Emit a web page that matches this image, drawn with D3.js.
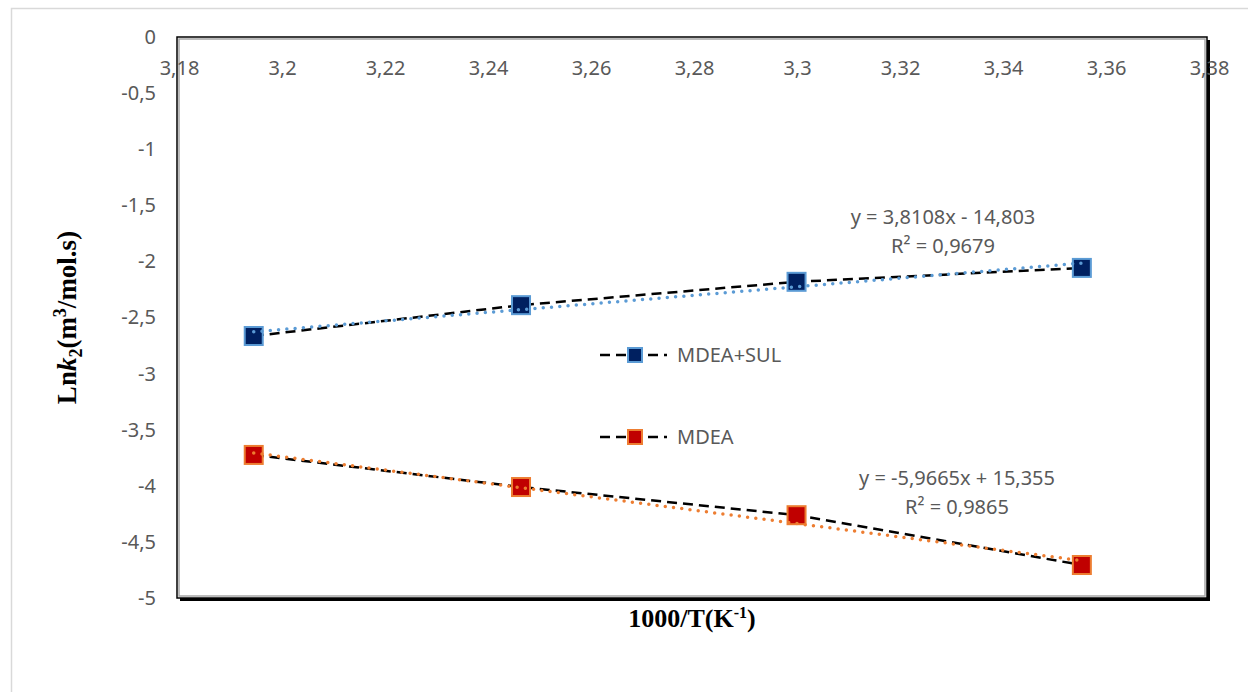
<!DOCTYPE html>
<html>
<head>
<meta charset="utf-8">
<script src="https://cdn.jsdelivr.net/npm/d3@7"></script>
<style>
  body { margin: 0; background: #fff; }
  svg { display: block; }
</style>
</head>
<body>
<div id="plot"></div>
<script>
// Data
const xValues = [3.1949, 3.2468, 3.3003, 3.3557];
const mdeaSul = [-2.665, -2.39, -2.182, -2.058];
const mdea = [-3.725, -4.011, -4.262, -4.706];
const seriesNames = ['MDEA+SUL', 'MDEA'];
const trendSul = { slope: 3.8108, intercept: -14.803, label: 'y = 3,8108x - 14,803', r2: 'R² = 0,9679' };
const trendMdea = { slope: -5.9665, intercept: 15.355, label: 'y = -5,9665x + 15,355', r2: 'R² = 0,9865' };
const xTicks = [3.18, 3.2, 3.22, 3.24, 3.26, 3.28, 3.3, 3.32, 3.34, 3.36, 3.38];
const yTicks = [0, -0.5, -1, -1.5, -2, -2.5, -3, -3.5, -4, -4.5, -5];

const width = 1248, height = 692;
const margin = { top: 37, bottom: 94, left: 177, right: 41 };
const fmt = d => String(+d.toFixed(2)).replace('.', ',');

const svg = d3.select('#plot')
  .append('svg')
  .attr('width', width)
  .attr('height', height);

// outer chart border
svg.append('rect')
  .attr('x', 11.5).attr('y', 8.5)
  .attr('width', width + 20).attr('height', height + 20)
  .attr('fill', '#fff')
  .attr('stroke', '#d9d9d9')
  .attr('stroke-width', 1.5);

// Scales
const x = d3.scaleLinear()
  .domain([3.18, 3.38])
  .range([margin.left, width - margin.right]);

const y = d3.scaleLinear()
  .domain([-5, 0])
  .range([height - margin.bottom, margin.top]);

const pw = x(3.38) - x(3.18), ph = y(-5) - y(0);

// plot frame with shadow
svg.append('rect')
  .attr('x', x(3.18) + 3).attr('y', y(0) + 3)
  .attr('width', pw).attr('height', ph)
  .attr('fill', '#000');
svg.append('rect')
  .attr('x', x(3.18)).attr('y', y(0))
  .attr('width', pw).attr('height', ph)
  .attr('fill', '#fff')
  .attr('stroke', '#000')
  .attr('stroke-width', 1.5);
svg.append('rect')
  .attr('x', x(3.18) + 2).attr('y', y(0) + 2)
  .attr('width', pw - 4).attr('height', ph - 4)
  .attr('fill', 'none')
  .attr('stroke', '#a6a6a6')
  .attr('stroke-width', 1.5);

// Axes (labels only)
svg.append('g')
  .attr('transform', `translate(0,${y(0)})`)
  .call(d3.axisBottom(x).tickValues(xTicks).tickFormat(fmt).tickSize(0).tickPadding(24))
  .call(g => g.select('.domain').remove())
  .selectAll('text')
  .attr('dx', 2)
  .style('font-family', 'Noto Sans')
  .style('font-size', '20px')
  .attr('fill', '#595959');

svg.append('g')
  .attr('transform', `translate(${margin.left},0)`)
  .call(d3.axisLeft(y).tickValues(yTicks).tickFormat(fmt).tickSize(0).tickPadding(21))
  .call(g => g.select('.domain').remove())
  .selectAll('text')
  .style('font-family', 'Noto Sans')
  .style('font-size', '20px')
  .attr('fill', '#595959');

// Series lines (black dashed)
const line = d3.line().x(d => x(d[0])).y(d => y(d[1]));
const allSeries = [
  { name: seriesNames[0], vals: mdeaSul, fill: '#002060', stroke: '#5B9BD5', trend: trendSul },
  { name: seriesNames[1], vals: mdea, fill: '#C00000', stroke: '#ED7D31', trend: trendMdea }
];

allSeries.forEach(s => {
  const pts = xValues.map((xv, i) => [xv, s.vals[i]]);
  svg.append('path')
    .datum(pts)
    .attr('d', line)
    .attr('fill', 'none')
    .attr('stroke', '#000')
    .attr('stroke-width', 2.5)
    .attr('stroke-dasharray', '10,6');

  svg.append('g')
    .selectAll('rect')
    .data(pts)
    .join('rect')
    .attr('x', d => x(d[0]) - 9)
    .attr('y', d => y(d[1]) - 9)
    .attr('width', 18)
    .attr('height', 18)
    .attr('fill', s.fill)
    .attr('stroke', s.stroke)
    .attr('stroke-width', 2);

  // linear trendline (dotted)
  const x0 = xValues[0], x1 = xValues[xValues.length - 1];
  svg.append('path')
    .datum([[x0, s.trend.slope * x0 + s.trend.intercept], [x1, s.trend.slope * x1 + s.trend.intercept]])
    .attr('d', line)
    .attr('fill', 'none')
    .attr('stroke', s.stroke)
    .attr('stroke-width', 3.5)
    .attr('stroke-linecap', 'round')
    .attr('stroke-dasharray', '0,8.3');
});

// Trendline equations
const eqs = [
  { t: trendSul, cx: 943, cy: 224 },
  { t: trendMdea, cx: 957, cy: 485 }
];
eqs.forEach(e => {
  svg.append('text')
    .attr('x', e.cx).attr('y', e.cy)
    .attr('text-anchor', 'middle')
    .style('font-family', 'Noto Sans')
    .style('font-size', '20px')
    .attr('fill', '#595959')
    .text(e.t.label);
  svg.append('text')
    .attr('x', e.cx).attr('y', e.cy + 29)
    .attr('text-anchor', 'middle')
    .style('font-family', 'Noto Sans')
    .style('font-size', '20px')
    .attr('fill', '#595959')
    .text(e.t.r2);
});

// Legend
const legend = svg.append('g').attr('transform', 'translate(600,355)');
const item = legend.selectAll('g')
  .data(allSeries)
  .join('g')
  .attr('transform', (d, i) => `translate(0,${i * 82})`);
item.append('line')
  .attr('x1', 0).attr('x2', 67)
  .attr('stroke', '#000')
  .attr('stroke-width', 2.5)
  .attr('stroke-dasharray', '10,6');
item.append('rect')
  .attr('x', 28).attr('y', -7)
  .attr('width', 14).attr('height', 14)
  .attr('fill', d => d.fill)
  .attr('stroke', d => d.stroke)
  .attr('stroke-width', 2);
item.append('text')
  .attr('x', 77).attr('y', 7)
  .style('font-family', 'Noto Sans')
  .style('font-size', '20px')
  .attr('fill', '#595959')
  .text(d => d.name);

// X axis title
const xt = svg.append('text')
  .attr('x', 692).attr('y', 627)
  .attr('text-anchor', 'middle')
  .style('font-family', 'Liberation Serif')
  .style('font-weight', 'bold')
  .style('font-size', '26px')
  .attr('fill', '#000');
xt.append('tspan').text('1000/T(K');
xt.append('tspan').attr('dy', -9).style('font-size', '16px').text('-1');
xt.append('tspan').attr('dy', 9).text(')');

// Y axis title
const yt = svg.append('text')
  .attr('transform', `translate(76,${(y(0) + y(-5)) / 2}) rotate(-90)`)
  .attr('text-anchor', 'middle')
  .style('font-family', 'Liberation Serif')
  .style('font-weight', 'bold')
  .style('font-size', '27px')
  .attr('fill', '#000');
yt.append('tspan').text('Ln');
yt.append('tspan').style('font-style', 'italic').text('k');
yt.append('tspan').attr('dy', 6).style('font-size', '18px').text('2');
yt.append('tspan').attr('dy', -6).text('(m');
yt.append('tspan').attr('dy', -10).style('font-size', '18px').text('3');
yt.append('tspan').attr('dy', 10).text('/mol.s)');
</script>
</body>
</html>
